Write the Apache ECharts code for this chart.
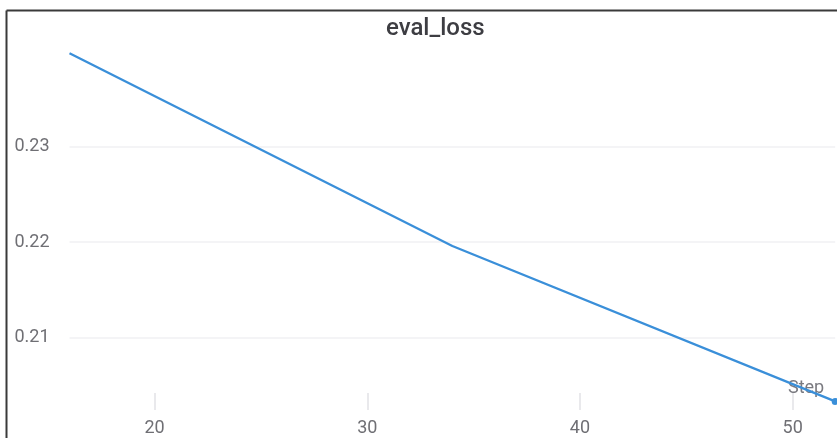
<!DOCTYPE html>
<html>
<head>
<meta charset="utf-8">
<script src="https://cdn.jsdelivr.net/npm/echarts@6/dist/echarts.min.js"></script>
<style>
html,body{margin:0;padding:0;background:#fff;}
#chart{width:837px;height:438px;}
</style>
</head>
<body>
<div id="chart"></div>
<script>
const steps = [16, 34, 52];
const evalLoss = [0.2398, 0.2196, 0.2033];
const xTicks = [20, 30, 40, 50];
const yTicks = [0.21, 0.22, 0.23];

const chart = echarts.init(document.getElementById('chart'));
const seriesData = steps.map((s, i) => {
  const item = { value: [s, evalLoss[i]] };
  if (i === steps.length - 1) { item.symbol = 'circle'; item.symbolSize = 7; }
  return item;
});
const labelColor = '#6f6f74';
const font = 'Roboto';
chart.setOption({
  animation: false,
  title: {
    text: 'eval_loss',
    left: 381,
    top: 12,
    textStyle: { fontFamily: font, fontSize: 24, fontWeight: 500, color: '#3d3d42' }
  },
  grid: { left: 69.5, right: 1.8, top: 51.4, bottom: 28 },
  xAxis: {
    type: 'value',
    min: 16,
    max: 52,
    name: 'Step',
    nameLocation: 'end',
    nameGap: -11,
    nameMoveOverlap: false,
    nameTextStyle: {
      fontFamily: font, fontSize: 18, color: '#7a7a80',
      align: 'right', verticalAlign: 'bottom', padding: [0, 0, 13, 0]
    },
    axisLine: { show: false },
    axisTick: { show: true, inside: true, length: 17, customValues: xTicks, lineStyle: { color: '#e2e2e6', width: 1.5 } },
    axisLabel: { customValues: xTicks, margin: 9, fontFamily: font, fontSize: 18, color: labelColor },
    splitLine: { show: false }
  },
  yAxis: {
    type: 'value',
    min: 0.2024,
    max: 0.24,
    axisLine: { show: false },
    axisTick: { show: false, customValues: yTicks },
    axisLabel: { customValues: yTicks, margin: 20, fontFamily: font, fontSize: 18, color: labelColor },
    splitLine: { show: true, lineStyle: { color: '#f1f1f3', width: 1.5 } }
  },
  graphic: [
    { type: 'line', shape: { x1: 6.5, y1: 10.5, x2: 6.5, y2: 438 }, style: { stroke: '#3a3a3a', lineWidth: 2 }, z: 100 },
    { type: 'line', shape: { x1: 6.5, y1: 10.5, x2: 837, y2: 10.5 }, style: { stroke: '#3a3a3a', lineWidth: 2 }, z: 100 }
  ],
  series: [{
    type: 'line',
    data: seriesData,
    symbol: 'none',
    showSymbol: true,
    lineStyle: { color: '#3a8fd9', width: 2.3 },
    itemStyle: { color: '#3a8fd9' },
    clip: false
  }]
});
</script>
</body>
</html>
